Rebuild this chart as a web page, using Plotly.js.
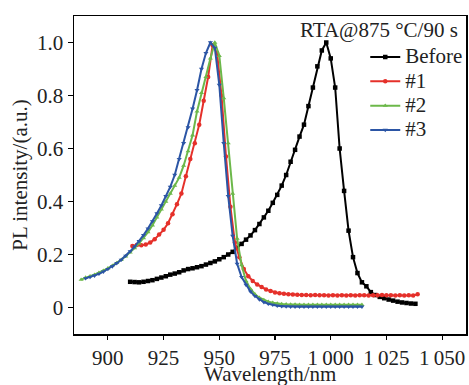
<!DOCTYPE html>
<html>
<head>
<meta charset="utf-8">
<script src="https://cdn.plot.ly/plotly-3.0.1.min.js"></script>
<style>html,body{margin:0;padding:0;background:#fff;}#chart{width:469px;height:385px;}</style>
</head>
<body>
<div id="chart"></div>
<script>
// Before
const beforeX = [910,912,914,916,918,920,922,924,926,928,930,932,934,936,938,940,942,944,946,948,950,952,954,956,958,960,962,964,966,968,970,972,974,976,978,980,982,984,986,988,990,992,994,996,998,1000,1002,1004,1006,1008,1010,1012,1014,1016,1018,1020,1022,1024,1026,1028,1030,1032,1034,1036,1038];
const beforeY = [0.097,0.096,0.095,0.097,0.100,0.103,0.108,0.113,0.118,0.124,0.128,0.133,0.140,0.145,0.148,0.152,0.156,0.162,0.168,0.174,0.182,0.190,0.200,0.210,0.225,0.240,0.256,0.272,0.292,0.315,0.340,0.365,0.395,0.425,0.460,0.500,0.550,0.595,0.645,0.690,0.760,0.830,0.910,0.970,1.000,0.940,0.830,0.600,0.440,0.290,0.190,0.130,0.095,0.080,0.058,0.047,0.040,0.035,0.030,0.026,0.022,0.019,0.017,0.015,0.014];
// #1
const s1X = [911,913,915,917,919,921,923,925,927,929,931,933,935,937,939,941,943,945,947,949,951,953,955,957,959,961,963,965,967,969,971,973,975,977,979,981,983,985,987,989,991,993,995,997,999,1001,1003,1005,1007,1009,1011,1013,1015,1017,1019,1021,1023,1025,1027,1029,1031,1033,1035,1037,1039];
const s1Y = [0.232,0.236,0.235,0.238,0.245,0.258,0.275,0.293,0.318,0.352,0.390,0.430,0.495,0.560,0.620,0.690,0.780,0.870,0.990,0.960,0.800,0.570,0.380,0.245,0.190,0.145,0.118,0.100,0.087,0.077,0.068,0.062,0.057,0.054,0.052,0.050,0.049,0.048,0.047,0.047,0.046,0.047,0.046,0.046,0.045,0.046,0.045,0.046,0.045,0.046,0.045,0.046,0.046,0.045,0.046,0.046,0.047,0.046,0.046,0.045,0.046,0.045,0.046,0.045,0.050];
// #2
const s2X = [888,890,892,894,896,898,900,902,904,906,908,910,912,914,916,918,920,922,924,926,928,930,932,934,936,938,940,942,944,946,948,950,952,954,956,958,960,962,964,966,968,970,972,974,976,978,980,982,984,986,988,990,992,994,996,998,1000,1002,1004,1006,1008,1010,1012,1014];
const s2Y = [0.105,0.113,0.118,0.124,0.131,0.139,0.148,0.158,0.168,0.180,0.193,0.208,0.224,0.242,0.262,0.284,0.310,0.340,0.370,0.400,0.430,0.460,0.490,0.535,0.590,0.650,0.740,0.810,0.870,0.940,1.000,0.950,0.790,0.620,0.430,0.260,0.160,0.100,0.070,0.050,0.037,0.028,0.022,0.018,0.015,0.013,0.012,0.011,0.011,0.010,0.010,0.010,0.010,0.010,0.010,0.010,0.010,0.010,0.010,0.010,0.010,0.010,0.010,0.010];
// #3
const s3X = [890,892,894,896,898,900,902,904,906,908,910,912,914,916,918,920,922,924,926,928,930,932,934,936,938,940,942,944,946,948,950,952,954,956,958,960,962,964,966,968,970,972,974,976,978,980,982,984,986,988,990,992,994,996,998,1000,1002,1004,1006,1008,1010,1012,1014];
const s3Y = [0.110,0.115,0.120,0.127,0.135,0.145,0.155,0.167,0.180,0.195,0.212,0.230,0.250,0.273,0.298,0.325,0.355,0.385,0.420,0.455,0.500,0.560,0.620,0.680,0.750,0.820,0.900,0.960,1.000,0.980,0.840,0.620,0.420,0.270,0.165,0.115,0.085,0.060,0.043,0.030,0.020,0.014,0.010,0.007,0.005,0.004,0.003,0.003,0.003,0.003,0.003,0.003,0.003,0.003,0.003,0.003,0.003,0.003,0.003,0.003,0.003,0.003,0.003];

const seriesNames = ['Before','#1','#2','#3'];
const xTickVals = [900,925,950,975,1000,1025,1050];
const xTickText = ['900','925','950','975','1\u2009000','1\u2009025','1\u2009050'];
const yTickVals = [0,0.2,0.4,0.6,0.8,1.0];
const yTickText = ['0','0.2','0.4','0.6','0.8','1.0'];
const xTitle = 'Wavelength/nm';
const yTitle = 'PL intensity/(a.u.)';
const note = 'RTA@875 °C/90 s';

const FONT = 'Liberation Serif, Times New Roman, serif';
const FS = 21;
const TXT = '#222';
function tr(x, y, name, color, symbol) {
  return {x: x, y: y, name: '<span style="font-size:' + FS + 'px">' + name + '</span>',
    type: 'scatter', mode: 'lines+markers',
    line: {color: color, width: 2}, marker: {color: color, size: 4.5, symbol: symbol}};
}
const data = [
  tr(beforeX, beforeY, seriesNames[0], '#000000', 'square'),
  tr(s1X, s1Y, seriesNames[1], '#e5302a', 'circle'),
  tr(s2X, s2Y, seriesNames[2], '#6cb84a', 'triangle-up'),
  tr(s3X, s3Y, seriesNames[3], '#2b55a5', 'triangle-down')
];
const axisCommon = {showline: true, linecolor: '#000', linewidth: 1.5, mirror: true,
  ticks: 'outside', ticklen: 4, tickwidth: 1.2, tickcolor: '#000', showgrid: false, zeroline: false,
  tickfont: {family: FONT, size: FS, color: TXT}};
const layout = {
  width: 469, height: 385,
  margin: {l: 74, r: 1, t: 16, b: 51},
  paper_bgcolor: '#fff', plot_bgcolor: '#fff',
  font: {family: FONT, size: FS, color: TXT},
  showlegend: true,
  legend: {x: 0.743, y: 0.925, xanchor: 'left', yanchor: 'top', bgcolor: 'rgba(0,0,0,0)',
    font: {family: FONT, size: 16.4, color: TXT}, tracegroupgap: 0},
  xaxis: Object.assign({}, axisCommon, {range: [884.8, 1060.7], tickvals: xTickVals, ticktext: xTickText}),
  yaxis: Object.assign({}, axisCommon, {range: [-0.1, 1.1], tickvals: yTickVals, ticktext: yTickText,
    ticklen: 5,
    title: {text: yTitle, font: {family: FONT, size: FS, color: TXT}, standoff: 3}}),
  annotations: [
    {xref: 'paper', yref: 'paper', x: 0.985, y: 0.955, xanchor: 'right', yanchor: 'middle',
      text: note, showarrow: false, font: {family: FONT, size: FS, color: TXT}},
    {xref: 'paper', yref: 'paper', x: 0.5, y: -0.127, xanchor: 'center', yanchor: 'middle',
      text: xTitle, showarrow: false, font: {family: FONT, size: FS, color: TXT}}
  ]
};
Plotly.newPlot('chart', data, layout, {displayModeBar: false, staticPlot: true});
</script>
</body>
</html>
